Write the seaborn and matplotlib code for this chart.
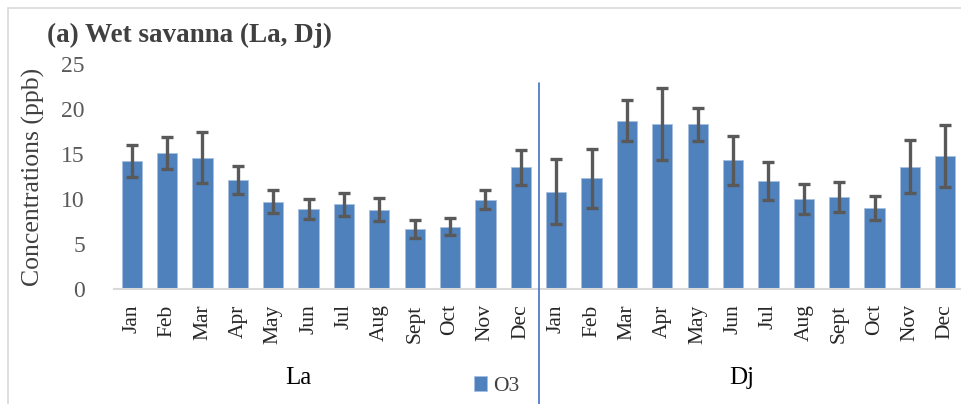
import numpy as np
import pandas as pd
import matplotlib
matplotlib.use("Agg")
import matplotlib.pyplot as plt
from matplotlib.patches import Rectangle
from matplotlib.transforms import blended_transform_factory
import seaborn as sns

# Monthly O3 means and standard deviations for the two wet-savanna sites
months = ["Jan", "Feb", "Mar", "Apr", "May", "Jun", "Jul", "Aug", "Sept", "Oct", "Nov", "Dec"]
sites = ["La", "Dj"]
la_o3 = [14.2, 15.1, 14.6, 12.1, 9.7, 8.9, 9.4, 8.8, 6.7, 6.9, 9.9, 13.5]
la_sd = [1.8, 1.75, 2.8, 1.55, 1.3, 1.1, 1.25, 1.3, 1.0, 0.95, 1.05, 1.9]
dj_o3 = [10.8, 12.3, 18.7, 18.3, 18.3, 14.3, 12.0, 10.0, 10.2, 9.0, 13.6, 14.8]
dj_sd = [3.6, 3.3, 2.25, 4.0, 1.85, 2.75, 2.1, 1.7, 1.65, 1.35, 2.95, 3.45]
series_name = "O3"

df = pd.DataFrame({
    "slot": np.arange(24),
    "site": [sites[0]] * 12 + [sites[1]] * 12,
    "month": months * 2,
    "o3": la_o3 + dj_o3,
    "sd": la_sd + dj_sd,
})

sns.set_theme(style="white")
plt.rcParams["font.family"] = ["Liberation Serif", "DejaVu Serif"]

W, H = 961, 404
fig = plt.figure(figsize=(W / 100, H / 100), dpi=100)
ax = fig.add_axes([114 / W, 1 - 289 / H, (963 - 114) / W, (289 - 64) / H])

bar_color = "#4F81BD"
sns.barplot(data=df, x="slot", y="o3", color=bar_color, width=0.57,
            errorbar=None, edgecolor="#A7C0E0", linewidth=0.6,
            saturation=1, label=series_name, ax=ax)
ax.errorbar(df["slot"], df["o3"], yerr=df["sd"], fmt="none",
            ecolor="#595959", elinewidth=2.4, capsize=4.3, capthick=2.4, zorder=3)

ax.set_xlim(-0.5, 23.5)
ax.set_ylim(0, 25)
ax.set_yticks([0, 5, 10, 15, 20, 25])
ax.tick_params(axis="y", labelsize=17, labelcolor="#595959", pad=21, length=0)
ax.set_xticks(df["slot"])
ax.set_xticklabels(df["month"], rotation=90, fontsize=15.5, color="#262626")
ax.tick_params(axis="x", pad=11, length=0)
ax.set_xlabel("")
ax.set_ylabel("Concentrations (ppb)", fontsize=18.5, color="#404040", labelpad=12)

for side in ["left", "right", "top"]:
    ax.spines[side].set_visible(False)
ax.spines["bottom"].set_color("#D9D9D9")
ax.spines["bottom"].set_linewidth(1.5)

# Divider between the two sites
tr = blended_transform_factory(ax.transData, fig.transFigure)
ax.plot([11.5, 11.5], [1 - 83 / H, 0], transform=tr, color="#4472C4",
        lw=1.2, clip_on=False, zorder=4)

# Site names under the month labels
fig.text(298 / W, 1 - 378 / H, sites[0], ha="center", va="center",
         fontsize=18, color="black")
fig.text(742 / W, 1 - 378 / H, sites[1], ha="center", va="center",
         fontsize=18, color="black")

# Chart title
fig.text(47 / W, 1 - 35 / H, "(a) Wet savanna (La, Dj)", ha="left", va="center",
         fontsize=19.5, fontweight="bold", color="#404040")

# Legend
ax.legend(loc="center", bbox_to_anchor=(497 / W, 1 - 386 / H),
          bbox_transform=fig.transFigure, frameon=False, fontsize=15.5,
          handlelength=0.6, handleheight=0.7, handletextpad=0.3,
          labelcolor="#404040")

# Chart area frame
fig.patches.append(Rectangle((8 / W, -0.05), 1.2, 1 - 8 / H + 0.05,
                             transform=fig.transFigure, fill=False,
                             edgecolor="#D9D9D9", lw=1.2))

fig.savefig("out.png", dpi=100)
